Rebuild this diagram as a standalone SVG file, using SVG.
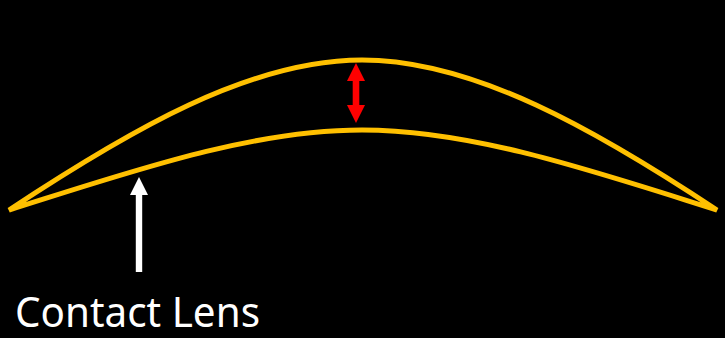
<svg xmlns="http://www.w3.org/2000/svg" width="725" height="338" viewBox="0 0 725 338">
  <style>
    .lens { fill: none; stroke: #FFC000; stroke-width: 5; stroke-linejoin: miter; }
    .label { font-family: "Noto Sans", "Open Sans", "Liberation Sans", sans-serif; font-size: 42px; fill: #FFFFFF; }
  </style>
  <rect x="0" y="0" width="725" height="338" fill="#000000"/>
  <g id="lens">
    <path class="lens" d="M9,210 C130,130 250,60 362,60 C474,60 596,130 717,210 C596,172 474,130 362,130 C250,130 130,172 9,210 Z"/>
  </g>
  <g id="connectors">
    <g id="thickness-arrow" fill="#FF0000">
      <polygon points="356,63 365,81 359.3,81 359.3,105 365,105 356,123 347,105 352.7,105 352.7,81 347,81"/>
    </g>
    <g id="pointer-arrow" fill="#FFFFFF">
      <polygon points="139,177 148,195 142.2,195 142.2,272 135.8,272 135.8,195 130,195"/>
    </g>
  </g>
  <g id="label">
    <text class="label" x="15" y="327" textLength="245" lengthAdjust="spacingAndGlyphs">Contact Lens</text>
  </g>
</svg>
